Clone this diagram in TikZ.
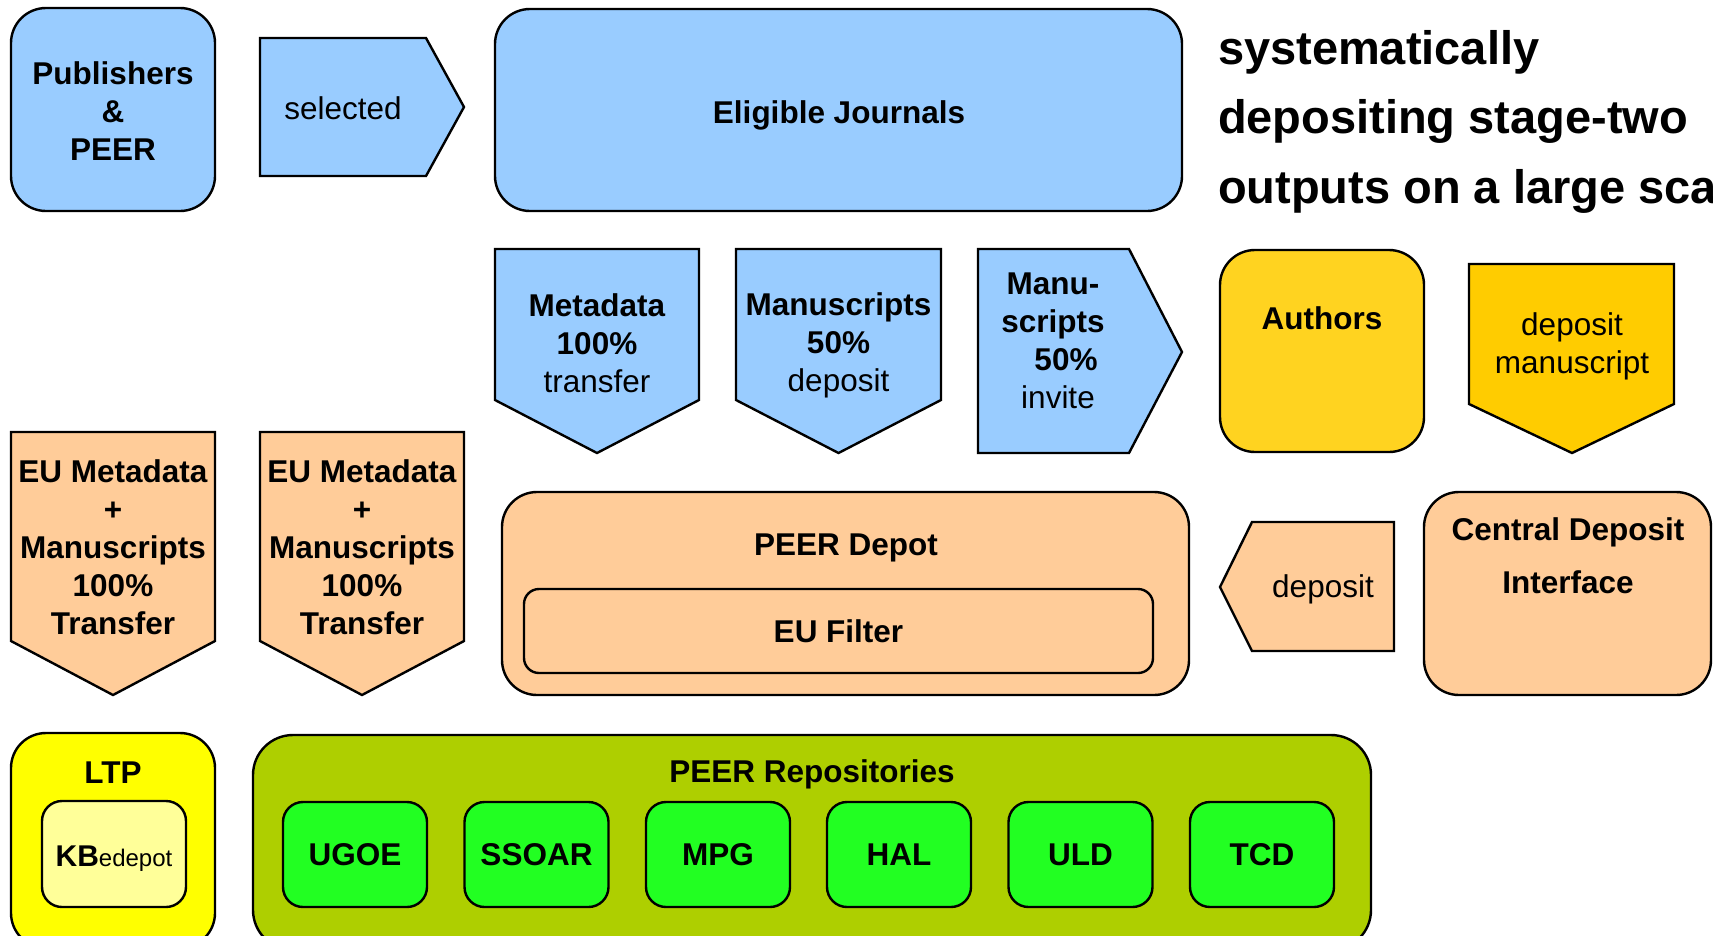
\documentclass[tikz,border=0pt]{standalone}
\usepackage{fontspec}
\setmainfont{Liberation Sans}
\definecolor{lblue}{HTML}{99CCFF}
\definecolor{peach}{HTML}{FFCC99}
\definecolor{authy}{HTML}{FFD320}
\definecolor{depy}{HTML}{FFCC00}
\definecolor{ltpy}{HTML}{FFFF00}
\definecolor{kby}{HTML}{FFFF99}
\definecolor{repog}{HTML}{AECF00}
\definecolor{boxg}{HTML}{22FF22}
\begin{document}
\begin{tikzpicture}[x=1pt,y=-1pt,
  every node/.style={font=\fontsize{31.5}{38}\selectfont, inner sep=0pt, outer sep=0pt},
  rbox/.style={draw=black, line width=2.4pt, rounded corners=35pt},
  shp/.style={draw=black, line width=2.4pt},
  txt/.style={align=center},
  bt/.style={align=center, font=\fontsize{31.5}{38}\selectfont\bfseries},
  bigtxt/.style={font=\fontsize{47}{70}\selectfont\bfseries, anchor=base west},
  repobox/.style={rbox, rounded corners=20pt, fill=boxg, minimum width=144pt, minimum height=105pt, bt},
]
\useasboundingbox (0,0) rectangle (1713,935);
\clip (0,0) rectangle (1713,935);

% ---- top row
\node[rbox, fill=lblue, minimum width=204pt, minimum height=203pt] (pub) at (113,109.5) {};
\node[bt] (pubT) at (113,111) {Publishers\\\&\\PEER};
\draw[shp, fill=lblue] (260,38) -- (426,38) -- (464,107) -- (426,176) -- (260,176) -- cycle;
\node (selT) at (343,108) {selected};
\node[rbox, fill=lblue, minimum width=687pt, minimum height=202pt] (elig) at (838.5,110) {};
\node[bt] (eligT) at (839,115) {Eligible Journals};

\node[bigtxt] (t1) at (1218,64) {systematically};
\node[bigtxt] (t2) at (1218,133.5) {depositing stage-two};
\node[bigtxt] (t3) at (1218,203) {outputs on a large scale};

% ---- second row
\draw[shp, fill=lblue] (495,249) -- (699,249) -- (699,400) -- (597,453) -- (495,400) -- cycle;
\node[txt] (metaT) at (597,343) {\textbf{Metadata}\\\textbf{100\%}\\transfer};
\draw[shp, fill=lblue] (736,249) -- (941,249) -- (941,400) -- (838.5,453) -- (736,400) -- cycle;
\node[txt] (manT) at (838.5,345.5) {\textbf{Manuscripts}\\\textbf{50\%}\\deposit};
\draw[shp, fill=lblue] (978,249) -- (1129,249) -- (1182,352) -- (1129,453) -- (978,453) -- cycle;
\node[txt] (manuT) at (1053,340.5) {\textbf{Manu-}\\\textbf{scripts}\\\hspace*{26pt}\textbf{50\%}\\\hspace*{10pt}invite};

\node[rbox, fill=authy, minimum width=204pt, minimum height=202pt] (auth) at (1322,351) {};
\node[bt] (authT) at (1322,318) {Authors};
\draw[shp, fill=depy] (1469,264) -- (1674,264) -- (1674,404) -- (1572,453) -- (1469,404) -- cycle;
\node[txt] (depmT) at (1572,346.5) {deposit\\manuscript};

% ---- third row
\draw[shp, fill=peach] (11,432) -- (215,432) -- (215,641) -- (113,695) -- (11,641) -- cycle;
\node[bt] (eu1T) at (113,547) {EU Metadata\\+\\Manuscripts\\100\%\\Transfer};
\draw[shp, fill=peach] (260,432) -- (464,432) -- (464,641) -- (362,695) -- (260,641) -- cycle;
\node[bt] (eu2T) at (362,547) {EU Metadata\\+\\Manuscripts\\100\%\\Transfer};

\node[rbox, fill=peach, minimum width=687pt, minimum height=203pt] (depot) at (845.5,593.5) {};
\node[bt] (depotT) at (846,548) {PEER Depot};
\node[rbox, rounded corners=15pt, fill=peach, minimum width=629pt, minimum height=84pt, bt] (filter) at (838.5,631) {EU Filter};

\draw[shp, fill=peach] (1220,587) -- (1252,522) -- (1394,522) -- (1394,651) -- (1252,651) -- cycle;
\node (depT) at (1323,589) {deposit};

\node[rbox, fill=peach, minimum width=287pt, minimum height=203pt] (cdi) at (1567.5,593.5) {};
\node[bt] (cdiT1) at (1568,532) {Central Deposit};
\node[bt] (cdiT2) at (1568,582.5) {Interface};

% ---- bottom row
\node[rbox, fill=ltpy, minimum width=204pt, minimum height=215pt] (ltp) at (113,840.5) {};
\node[bt] (ltpT) at (113,773) {LTP};
\node[rbox, rounded corners=20pt, fill=kby, minimum width=144pt, minimum height=106pt] (kb) at (114,854) {};
\node (kbT) at (114,859) {{\fontsize{30}{36}\selectfont\bfseries KB}{\fontsize{24}{29}\selectfont edepot}};

\node[rbox, rounded corners=40pt, fill=repog, minimum width=1118pt, minimum height=215pt] (repos) at (812,842.5) {};
\node[bt] (reposT) at (812,774) {PEER Repositories};
\node[repobox] (ugoe) at (355,854.5) {UGOE};
\node[repobox] (ssoar) at (536.5,854.5) {SSOAR};
\node[repobox] (mpg) at (718,854.5) {MPG};
\node[repobox] (hal) at (899,854.5) {HAL};
\node[repobox] (uld) at (1080.5,854.5) {ULD};
\node[repobox] (tcd) at (1262,854.5) {TCD};
\end{tikzpicture}
\end{document}
